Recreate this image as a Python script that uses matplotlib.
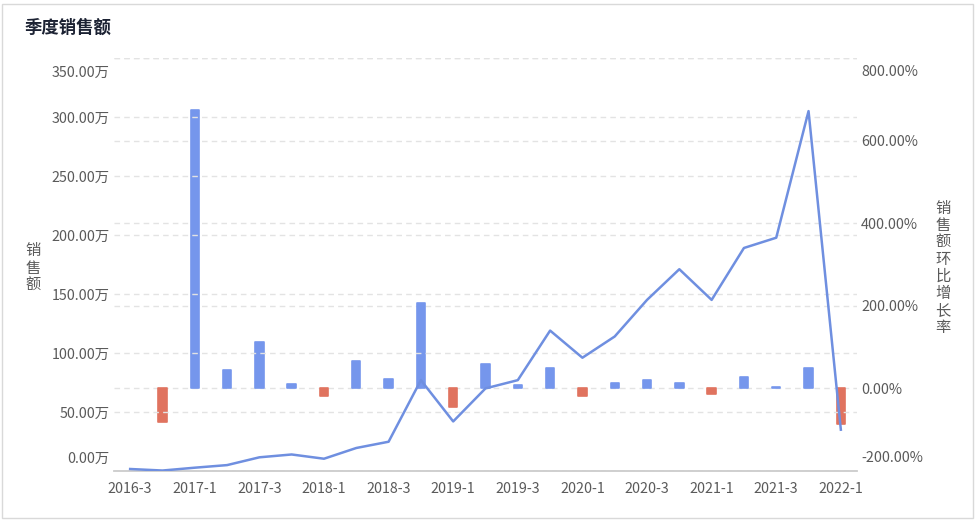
import numpy as np
import matplotlib
matplotlib.use('Agg')
import matplotlib.pyplot as plt
from matplotlib.patches import Rectangle
from matplotlib.transforms import ScaledTranslation

plt.rcParams['font.family'] = ['Noto Sans CJK SC', 'DejaVu Sans']

# 数据
quarters = ['2016-3', '2016-4',
            '2017-1', '2017-2', '2017-3', '2017-4',
            '2018-1', '2018-2', '2018-3', '2018-4',
            '2019-1', '2019-2', '2019-3', '2019-4',
            '2020-1', '2020-2', '2020-3', '2020-4',
            '2021-1', '2021-2', '2021-3', '2021-4',
            '2022-1']
sales = [1.7, 0.4, 2.8, 5.0, 11.6, 14.0, 10.4, 19.5, 24.8, 77.0,
         42.0, 70.0, 77.0, 119.0, 96.0, 114.0, 145.0, 171.0,
         145.0, 189.0, 197.7, 305.0, 35.0]
# 第一个季度没有环比
growth = [None, -81.0, 675.0, 43.6, 112.0, 11.0, -19.0, 66.0, 23.5, 207.5,
          -45.0, 60.0, 8.0, 50.0, -19.0, 14.0, 21.0, 14.0,
          -13.0, 27.0, 3.0, 50.0, -87.0]
left_ticks = [0, 50, 100, 150, 200, 250, 300, 350]
right_ticks = [-200, 0, 200, 400, 600, 800]

blue_bar = '#7596ec'
red_bar = '#e0735f'
line_col = '#6f8fe0'
text_col = '#5a5a5a'
grid_col = '#e3e3e3'

W, H = 979, 522
fig = plt.figure(figsize=(W / 100, H / 100), dpi=100)
ax1 = fig.add_axes([114 / W, (H - 471) / H, (857 - 114) / W, (471 - 58) / H])
ax2 = ax1.twinx()

x = np.arange(len(quarters))

# 柱状图：环比增长率（右轴）
bx = [i for i, g in zip(x, growth) if g is not None]
bv = [g for g in growth if g is not None]
colors = [blue_bar if g >= 0 else red_bar for g in bv]
ax2.bar(bx, bv, width=0.26, color=colors, edgecolor=colors,
        linewidth=1.2, joinstyle='round', zorder=2)

# 折线：销售额（左轴）
ax1.plot(x, sales, color=line_col, linewidth=1.8, zorder=3)
ax1.set_zorder(ax2.get_zorder() + 1)
ax1.patch.set_visible(False)

ax1.set_xlim(-0.5, len(quarters) - 0.5)
ax1.set_ylim(0, 350)
ax2.set_ylim(-200, 800)

ax1.set_yticks(left_ticks)
ax1.set_yticklabels([f'{v:.2f}万' for v in left_ticks])
ax2.set_yticks(right_ticks)
ax2.set_yticklabels([f'{v:.2f}%' for v in right_ticks])
ax1.set_xticks(x[::2])
ax1.set_xticklabels(quarters[::2])

for ax in (ax1, ax2):
    for s in ax.spines.values():
        s.set_visible(False)
    ax.tick_params(axis='both', length=0, labelsize=10.3, labelcolor=text_col)
    ax.grid(axis='y', color=grid_col, linestyle=(0, (4, 3)), linewidth=1)
    ax.set_axisbelow(True)
ax1.grid(axis='x', visible=False)
ax1.spines['bottom'].set_visible(True)
ax1.spines['bottom'].set_color('#cccccc')
ax1.spines['bottom'].set_linewidth(1.3)
ax1.tick_params(axis='y', pad=3)
ax2.tick_params(axis='y', pad=3)
ax1.tick_params(axis='x', pad=8)

# 顶部、底部刻度标签内移
down = ScaledTranslation(0, -13 / 100, fig.dpi_scale_trans)
up = ScaledTranslation(0, 14 / 100, fig.dpi_scale_trans)
for ax in (ax1, ax2):
    labs = ax.get_yticklabels()
    labs[-1].set_transform(labs[-1].get_transform() + down)
    labs[0].set_transform(labs[0].get_transform() + up)

# 标题和轴标题
fig.text(25 / W, 1 - 28 / H, '季度销售额', fontsize=12.5, fontweight='bold',
         color='#1c2233', va='center', ha='left')
fig.text(33 / W, 1 - 268 / H, '\n'.join('销售额'), fontsize=11,
         color=text_col, va='center', ha='center', linespacing=1.05)
fig.text(943 / W, 1 - 268 / H, '\n'.join('销售额环比增长率'), fontsize=11,
         color=text_col, va='center', ha='center', linespacing=1.0)

# 外框
fig.patches.append(Rectangle((2 / W, 4 / H), (973 - 2) / W, (518 - 4) / H,
                             transform=fig.transFigure, fill=False,
                             edgecolor='#d9d9d9', linewidth=1))

fig.savefig('out.png', dpi=100)
